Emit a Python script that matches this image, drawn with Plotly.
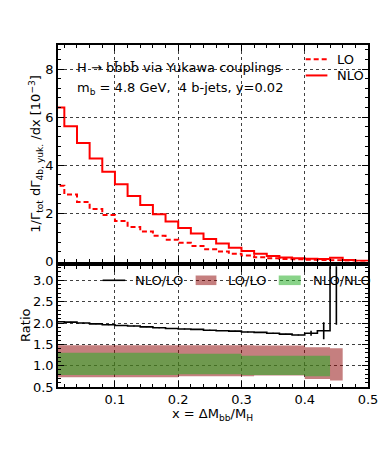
import plotly.graph_objects as go

# ---- data ----
bin_edges = [round(0.02 * i, 2) for i in range(26)]  # 0.00 ... 0.50
lo_vals = [3.15, 2.79, 2.48, 2.19, 1.94, 1.69, 1.44, 1.25, 1.07, 0.91,
           0.78, 0.65, 0.51, 0.42, 0.33, 0.25, 0.18, 0.14, 0.11, 0.10,
           0.08, 0.07, 0.06, 0.03, 0.02]
nlo_vals = [6.40, 5.62, 4.93, 4.28, 3.73, 3.21, 2.73, 2.35, 1.97, 1.67,
            1.40, 1.17, 0.94, 0.75, 0.58, 0.44, 0.33, 0.23, 0.17, 0.14,
            0.12, 0.11, 0.16, 0.07, 0.03]
ratio_vals = [2.03, 2.02, 2.00, 1.98, 1.96, 1.94, 1.93, 1.91, 1.89, 1.87,
              1.86, 1.85, 1.83, 1.82, 1.81, 1.79, 1.78, 1.76, 1.74, 1.72,
              1.76, 1.82, 4.50]
ratio_err_up = [0.01] * 20 + [0.06, 0.20, 2.50]
ratio_err_dn = [0.01] * 20 + [0.06, 0.20, 2.54]
lo_band_up = [1.48] * 10 + [1.48] * 6 + [1.47] * 4 + [1.43, 1.43, 1.41]
lo_band_dn = [0.73] * 10 + [0.75] * 6 + [0.77] * 4 + [0.69, 0.69, 0.65]
nlo_band_up = [1.30] * 10 + [1.28] * 5 + [1.23] * 7
nlo_band_dn = [0.78] * 10 + [0.80] * 5 + [0.78] * 5 + [0.75, 0.75]

RED = "#ff0000"
LO_FILL = "rgba(139,0,0,0.5)"
NLO_FILL = "rgba(40,175,40,0.55)"
FONT = "DejaVu Sans"


def step(vals):
    n = len(vals)
    return bin_edges[:n + 1], list(vals) + [vals[-1]]


fig = go.Figure()

# upper panel
x, y = step(lo_vals)
fig.add_trace(go.Scatter(x=x, y=y, mode="lines", line_shape="hv",
                         line=dict(color=RED, width=2, dash="5px,3px"),
                         xaxis="x", yaxis="y", showlegend=False))
x, y = step(nlo_vals)
fig.add_trace(go.Scatter(x=x, y=y, mode="lines", line_shape="hv",
                         line=dict(color=RED, width=2),
                         xaxis="x", yaxis="y", showlegend=False))

# lower panel bands
x, y = step(lo_band_dn)
fig.add_trace(go.Scatter(x=x, y=y, mode="lines", line_shape="hv",
                         line=dict(width=0), xaxis="x2", yaxis="y2", showlegend=False))
x, y = step(lo_band_up)
fig.add_trace(go.Scatter(x=x, y=y, mode="lines", line_shape="hv", fill="tonexty",
                         fillcolor=LO_FILL, line=dict(width=0),
                         xaxis="x2", yaxis="y2", showlegend=False))
x, y = step(nlo_band_dn)
fig.add_trace(go.Scatter(x=x, y=y, mode="lines", line_shape="hv",
                         line=dict(width=0), xaxis="x2", yaxis="y2", showlegend=False))
x, y = step(nlo_band_up)
fig.add_trace(go.Scatter(x=x, y=y, mode="lines", line_shape="hv", fill="tonexty",
                         fillcolor=NLO_FILL, line=dict(width=0),
                         xaxis="x2", yaxis="y2", showlegend=False))

# ratio line
x, y = step(ratio_vals)
fig.add_trace(go.Scatter(x=x, y=y, mode="lines", line_shape="hv",
                         line=dict(color="black", width=1.6),
                         xaxis="x2", yaxis="y2", showlegend=False))
centers = [(bin_edges[i] + bin_edges[i + 1]) / 2 for i in range(len(ratio_vals))]
fig.add_trace(go.Scatter(x=centers, y=ratio_vals, mode="markers",
                         marker=dict(size=0.1, color="black"),
                         error_y=dict(type="data", symmetric=False, array=ratio_err_up,
                                      arrayminus=ratio_err_dn, color="black",
                                      thickness=1.6, width=0),
                         xaxis="x2", yaxis="y2", showlegend=False, cliponaxis=True))

axis_common = dict(showline=True, linecolor="black", linewidth=1.5, mirror="allticks",
                   ticks="inside", ticklen=6, tickwidth=1.2, tickcolor="black",
                   showgrid=True, gridcolor="rgba(0,0,0,0.75)", griddash="dot", gridwidth=1,
                   zeroline=False, tickfont=dict(family=FONT, size=13, color="black"))

fig.update_layout(
    width=382, height=447,
    margin=dict(l=50, r=19, t=37, b=68),
    plot_bgcolor="white", paper_bgcolor="white",
    font=dict(family=FONT, size=13, color="black"),
    xaxis=dict(range=[0.01, 0.5], domain=[0, 1], anchor="y",
               tickvals=[0.1, 0.2, 0.3, 0.4, 0.5], showticklabels=False,
               minor=dict(ticks="inside", dtick=0.02, tick0=0, ticklen=3, tickcolor="black",
                          showgrid=False),
               **axis_common),
    yaxis=dict(range=[0, 9], domain=[0.3667, 1], anchor="x",
               tickvals=[0, 2, 4, 6, 8],
               minor=dict(ticks="inside", dtick=0.4, tick0=0, ticklen=3, tickcolor="black",
                          showgrid=False),
               **axis_common),
    xaxis2=dict(range=[0.01, 0.5], domain=[0, 1], anchor="y2",
                tickvals=[0.1, 0.2, 0.3, 0.4, 0.5], ticktext=["0.1", "0.2", "0.3", "0.4", "0.5"],
                minor=dict(ticks="inside", dtick=0.02, tick0=0, ticklen=3, tickcolor="black",
                           showgrid=False),
                **axis_common),
    yaxis2=dict(range=[0.5, 3.33], domain=[0, 0.353], anchor="x2",
                tickvals=[0.5, 1.0, 1.5, 2.0, 2.5, 3.0],
                ticktext=["0.5", "1.0", "1.5", "2.0", "2.5", "3.0"],
                minor=dict(ticks="inside", dtick=0.1, tick0=0.5, ticklen=3, tickcolor="black",
                           showgrid=False),
                **axis_common),
)

ann = []
ann.append(dict(x=0.054, y=0.935, xref="paper", yref="paper", xanchor="left", yanchor="middle",
                text="H → bb̄bb̄ via Yukawa couplings", showarrow=False,
                font=dict(family=FONT, size=13)))
ann.append(dict(x=0.054, y=0.873, xref="paper", yref="paper", xanchor="left", yanchor="middle",
                text="m<sub>b</sub> = 4.8 GeV,  4 b-jets, y=0.02", showarrow=False,
                font=dict(family=FONT, size=13)))
ann.append(dict(x=0.498, y=-0.08, xref="paper", yref="paper", xanchor="center", yanchor="middle",
                text="x = ΔM<sub>bb</sub>/M<sub>H</sub>", showarrow=False,
                font=dict(family=FONT, size=13)))
ann.append(dict(x=-0.07, y=0.683, xref="paper", yref="paper", xanchor="center", yanchor="middle",
                text="1/Γ<sub>tot</sub> dΓ<sub>4b, yuk.</sub> /dx [10<sup>−3</sup>]",
                textangle=-90, showarrow=False, font=dict(family=FONT, size=13)))
ann.append(dict(x=-0.105, y=0.18, xref="paper", yref="paper", xanchor="center", yanchor="middle",
                text="Ratio", textangle=-90, showarrow=False, font=dict(family=FONT, size=13)))

# upper legend
ann.append(dict(x=0.895, y=0.958, xref="paper", yref="paper", xanchor="left", yanchor="middle",
                text="LO", showarrow=False, font=dict(family=FONT, size=13)))
ann.append(dict(x=0.895, y=0.911, xref="paper", yref="paper", xanchor="left", yanchor="middle",
                text="NLO", showarrow=False, font=dict(family=FONT, size=13)))
# lower legend
ann.append(dict(x=0.243, y=0.312, xref="paper", yref="paper", xanchor="left", yanchor="middle",
                text="NLO/LO", showarrow=False, font=dict(family=FONT, size=13)))
ann.append(dict(x=0.543, y=0.312, xref="paper", yref="paper", xanchor="left", yanchor="middle",
                text="LO/LO", showarrow=False, font=dict(family=FONT, size=13)))
ann.append(dict(x=0.815, y=0.312, xref="paper", yref="paper", xanchor="left", yanchor="middle",
                text="NLO/NLO", showarrow=False, font=dict(family=FONT, size=13)))

shapes = [
    dict(type="line", xref="paper", yref="paper", x0=0.799, x1=0.869, y0=0.958, y1=0.958,
         line=dict(color=RED, width=2, dash="5px,3px")),
    dict(type="line", xref="paper", yref="paper", x0=0.799, x1=0.869, y0=0.911, y1=0.911,
         line=dict(color=RED, width=2)),
    dict(type="line", xref="paper", yref="paper", x0=0.144, x1=0.217, y0=0.312, y1=0.312,
         line=dict(color="black", width=1.6)),
    dict(type="rect", xref="paper", yref="paper", x0=0.444, x1=0.511, y0=0.298, y1=0.326,
         fillcolor=LO_FILL, line=dict(width=0)),
    dict(type="rect", xref="paper", yref="paper", x0=0.712, x1=0.783, y0=0.298, y1=0.326,
         fillcolor=NLO_FILL, line=dict(width=0)),
]
fig.update_layout(annotations=ann, shapes=shapes)

fig.write_html("out.html")
